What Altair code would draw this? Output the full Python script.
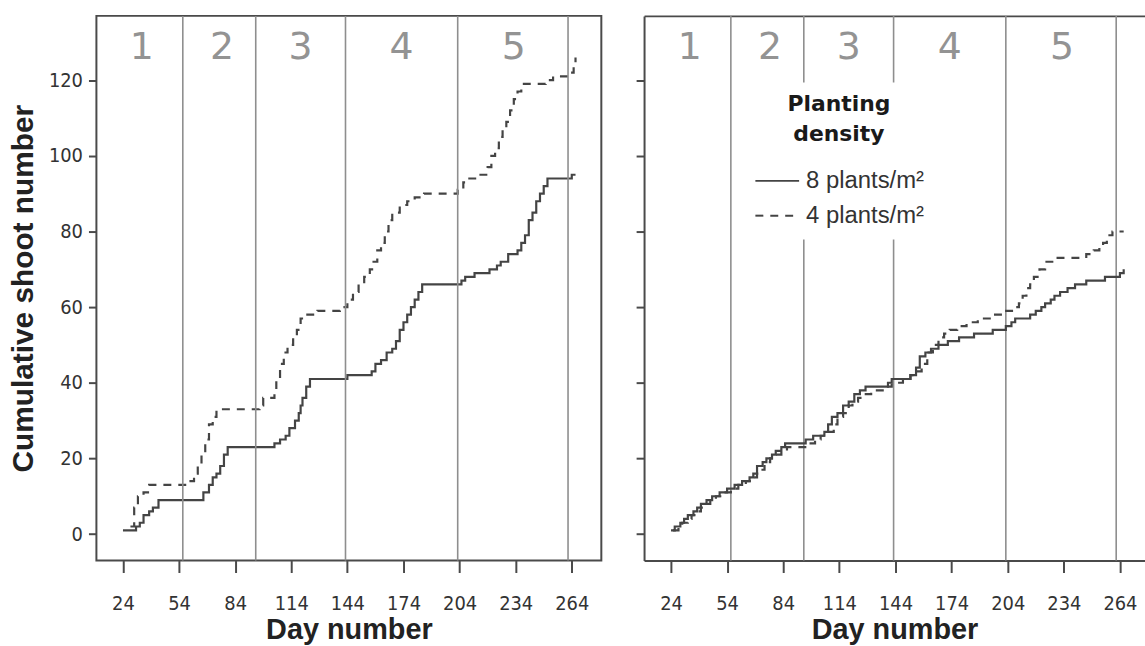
import altair as alt
import pandas as pd

# ---------------- data ----------------
density_labels = ["8 plants/m²", "4 plants/m²"]

# Left panel, 8 plants/m² (solid)
left8_day = [24, 31, 33, 35, 38, 40, 43, 67, 70, 72, 74, 76, 78, 80, 105, 108, 111, 113, 116, 118,
             119, 120, 122, 124, 144, 157, 159, 162, 165, 168, 170, 172, 174, 176, 178, 180, 182, 184,
             205, 207, 212, 220, 224, 226, 230, 235, 237, 239, 241, 243, 245, 247, 249, 251, 264, 266]
left8_val = [1, 2, 3, 5, 6, 7, 9, 11, 13, 15, 16, 18, 21, 23, 24, 25, 26, 28, 30, 32,
             34, 36, 39, 41, 42, 43, 45, 46, 48, 49, 51, 54, 56, 58, 60, 62, 64, 66,
             67, 68, 69, 70, 71, 72, 74, 75, 77, 79, 83, 85, 88, 90, 92, 94, 95, 95]

# Left panel, 4 plants/m² (dashed)
left4_day = [28, 30, 32, 35, 38, 58, 62, 64, 66, 68, 70, 72, 74, 97, 99, 105, 106, 108, 110, 112,
             115, 117, 119, 121, 128, 140, 144, 147, 150, 153, 156, 158, 160, 162, 164, 166, 168, 172,
             176, 180, 185, 203, 206, 208, 214, 219, 221, 223, 225, 227, 229, 231, 233, 235, 237, 250,
             254, 263, 265, 266]
left4_val = [2, 7, 10, 11, 13, 14, 16, 18, 21, 25, 29, 31, 33, 34, 36, 38, 41, 45, 48, 50,
             52, 54, 57, 58, 59, 60, 62, 64, 66, 68, 70, 72, 75, 77, 80, 83, 85, 87,
             88, 89, 90, 91, 93, 94, 95, 97, 100, 102, 105, 107, 109, 112, 115, 117, 119, 120,
             121, 122, 124, 126]

# Right panel, 8 plants/m² (solid)
right8_day = [24, 26, 29, 31, 33, 36, 38, 40, 43, 46, 50, 54, 58, 62, 66, 68, 70, 73, 75, 78,
              80, 83, 85, 96, 100, 106, 108, 110, 113, 116, 119, 122, 125, 128, 140, 142, 152, 155,
              157, 160, 163, 167, 172, 178, 186, 196, 203, 206, 208, 216, 219, 222, 224, 227, 229,
              232, 236, 240, 246, 256, 264, 266]
right8_val = [1, 2, 3, 4, 5, 6, 7, 8, 9, 10, 11, 12, 13, 14, 15, 16, 18, 19, 20, 21,
              22, 23, 24, 25, 26, 27, 29, 31, 32, 34, 35, 37, 38, 39, 40, 41, 42, 44,
              47, 48, 49, 50, 51, 52, 53, 54, 55, 56, 57, 58, 59, 60, 61, 62, 63,
              64, 65, 66, 67, 68, 69, 70]

# Right panel, 4 plants/m² (dashed)
right4_day = [25, 28, 30, 33, 35, 38, 40, 42, 45, 48, 52, 56, 60, 64, 67, 70, 72, 74, 77, 80,
              83, 86, 98, 101, 104, 108, 111, 113, 116, 119, 121, 124, 127, 131, 138, 142, 148, 152,
              155, 158, 161, 164, 167, 170, 173, 177, 182, 188, 196, 201, 207, 210, 212, 214, 216,
              218, 221, 224, 229, 246, 250, 253, 255, 257, 260, 266]
right4_val = [1, 2, 3, 4, 5, 6, 7, 8, 9, 10, 11, 12, 13, 14, 15, 16, 17, 19, 20, 21,
              22, 23, 24, 25, 26, 27, 29, 31, 32, 34, 35, 36, 37, 38, 39, 40, 41, 42,
              43, 45, 48, 50, 52, 53, 54, 55, 56, 57, 58, 59, 60, 61, 63, 65, 66,
              68, 70, 72, 73, 74, 75, 76, 77, 79, 80, 80]

# Period boundaries (vertical lines) and period labels
period_boundary_day = [56, 95, 143, 203, 262]
period_label = ["1", "2", "3", "4", "5"]
period_label_day = [34, 77, 119, 173, 233]

x_ticks = [24, 54, 84, 114, 144, 174, 204, 234, 264]
y_ticks = [0, 20, 40, 60, 80, 100, 120]


def series_df(day8, val8, day4, val4):
    a = pd.DataFrame({"day": day8, "shoots": val8, "density": density_labels[0]})
    b = pd.DataFrame({"day": day4, "shoots": val4, "density": density_labels[1]})
    return pd.concat([a, b], ignore_index=True)


left_df = series_df(left8_day, left8_val, left4_day, left4_val)
right_df = series_df(right8_day, right8_val, right4_day, right4_val)
bound_df = pd.DataFrame({"day": period_boundary_day})
label_df = pd.DataFrame({"day": period_label_day, "label": period_label})

LINE = "#444444"
FRAME = "#4a4a4a"
VLINE = "#8e8e8e"
TXT = "#333333"
TICK_FONT = "DejaVu Sans Condensed, Liberation Sans, sans-serif"


def panel(df, domain, width, right_panel):
    xs = alt.Scale(domain=domain, nice=False, zero=False)
    ys = alt.Scale(domain=[-7, 137], nice=False, zero=False)

    x_axis = alt.Axis(values=x_ticks, title="Day number", domain=right_panel,
                      domainColor=FRAME, domainWidth=2, tickSize=12, labelPadding=21,
                      titlePadding=2, titleFontSize=29, grid=False)
    y_axis = alt.Axis(values=y_ticks, title=None if right_panel else "Cumulative shoot number",
                      labels=not right_panel, domain=right_panel, domainColor=FRAME,
                      domainWidth=2, tickSize=8, labelPadding=6, titlePadding=10,
                      titleFontSize=30, grid=False)

    rules = alt.Chart(bound_df).mark_rule(color=VLINE, strokeWidth=1.6).encode(
        x=alt.X("day:Q", scale=xs, axis=None if right_panel else x_axis)
    )

    if right_panel:
        legend = alt.Legend(
            orient="none", legendX=99, legendY=67,
            title=["Planting", "density"],
            titleFont="DejaVu Sans", titleFontSize=22, titleFontWeight="bold",
            titleColor="#1a1a1a", titleAnchor="middle", titleAlign="center",
            titleLineHeight=30, titlePadding=12,
            labelFont="Liberation Sans", labelFontSize=24, labelColor=TXT, labelOffset=6,
            symbolType="stroke", symbolSize=1936, symbolStrokeWidth=2,
            symbolStrokeColor=LINE, rowPadding=-19, padding=12, fillColor="white",
        )
    else:
        legend = None

    lines = alt.Chart(df).mark_line(interpolate="step-after", color=LINE, strokeWidth=2.2,
                                    clip=True).encode(
        x=alt.X("day:Q", scale=xs, axis=x_axis),
        y=alt.Y("shoots:Q", scale=ys, axis=y_axis),
        strokeDash=alt.StrokeDash(
            "density:N",
            scale=alt.Scale(domain=density_labels, range=[[1, 0], [8, 7]]),
            legend=legend,
        ),
    )

    if right_panel:
        top_axis = alt.Axis(orient="top", labels=False, ticks=False, title=None, domain=True,
                            domainColor=FRAME, domainWidth=2, grid=False)
    else:
        top_axis = x_axis
    texts = alt.Chart(label_df).mark_text(
        font="DejaVu Sans", fontSize=38, color="#939393", baseline="middle", align="center"
    ).encode(
        x=alt.X("day:Q", scale=xs, axis=top_axis),
        y=alt.value(32),
        text="label:N",
    )

    if right_panel:
        layered = alt.layer(rules, lines, texts).resolve_axis(x="independent").properties(
            width=width, height=548)
    else:
        layered = alt.layer(lines, rules, texts).properties(
            width=width, height=548,
            view=alt.ViewBackground(stroke=FRAME, strokeWidth=2),
        )
    return layered


left = panel(left_df, [9.8, 279.8], 508, False)
right = panel(right_df, [9.6, 277.4], 504, True)

chart = alt.hconcat(left, right, spacing=33).resolve_scale(
    strokeDash="independent"
).resolve_legend(strokeDash="independent").properties(
    padding={"left": 7, "top": 12, "right": 0, "bottom": 0}
).configure_view(strokeWidth=0).configure_axis(
    labelFont=TICK_FONT,
    labelFontSize=20,
    labelColor=TXT,
    tickColor=FRAME,
    tickWidth=2,
    titleFont="Liberation Sans",
    titleFontWeight="bold",
    titleColor="#222222",
)

chart.save("out.html", embed_options={"renderer": "svg", "actions": False})
